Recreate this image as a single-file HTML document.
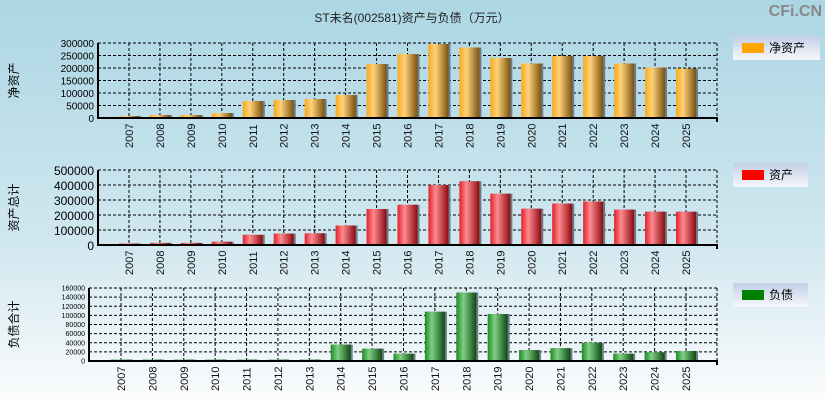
<!DOCTYPE html>
<html><head><meta charset="utf-8"><style>
body{margin:0;width:825px;height:400px;overflow:hidden;font-family:"Liberation Sans","Noto Sans CJK SC",sans-serif;}
svg{display:block}
</style></head><body>
<svg id="c" width="825" height="400" xmlns="http://www.w3.org/2000/svg">
<defs>
<linearGradient id="bg" x1="0" y1="0" x2="0" y2="1"><stop offset="0" stop-color="#acd6e4"/><stop offset="0.6" stop-color="#d0e7ef"/><stop offset="1" stop-color="#fbfcfd"/></linearGradient>
<linearGradient id="gO" x1="0" x2="1"><stop offset="0" stop-color="#f9a91c"/><stop offset="0.35" stop-color="#ffd27a"/><stop offset="1" stop-color="#7a520e"/></linearGradient>
<linearGradient id="gR" x1="0" x2="1"><stop offset="0" stop-color="#e2202a"/><stop offset="0.35" stop-color="#ff8a8f"/><stop offset="1" stop-color="#8a0a10"/></linearGradient>
<linearGradient id="gG" x1="0" x2="1"><stop offset="0" stop-color="#1d8a25"/><stop offset="0.35" stop-color="#7fcf84"/><stop offset="1" stop-color="#0e4a12"/></linearGradient>
<linearGradient id="lg" x1="0" y1="0" x2="0" y2="1"><stop offset="0" stop-color="#c2cfe6"/><stop offset="1" stop-color="#f6f7fb"/></linearGradient>
</defs>
<rect width="825" height="400" fill="url(#bg)"/>
<text x="412" y="22" font-size="12" text-anchor="middle" fill="#222">ST未名(002581)资产与负债（万元）</text>
<text x="822" y="16" font-size="16" font-weight="bold" text-anchor="end" fill="#888">CFi.CN</text>
</svg>
<script>
const years=["2007","2008","2009","2010","2011","2012","2013","2014","2015","2016","2017","2018","2019","2020","2021","2022","2023","2024","2025"];
const netAssets=[8000,12000,12000,20000,68000,72000,76000,92000,216000,256000,296000,282000,240000,218000,248000,248000,218000,202000,198000];
const totalAssets=[10000,14000,14000,22000,68000,76000,78000,130000,240000,268000,400000,425000,342000,242000,276000,290000,236000,222000,222000];
const liabilities=[3000,3000,3000,3000,3000,3000,3000,36000,27000,16000,108000,150000,103000,24000,28000,40000,16000,19000,22000];
const ticksTop=[0,50000,100000,150000,200000,250000,300000];
const ticksMid=[0,100000,200000,300000,400000,500000];
const ticksBot=[0,20000,40000,60000,80000,100000,120000,140000,160000];
const NS="http://www.w3.org/2000/svg";
const svg=document.getElementById('c');
function mk(t,a,p){const e=document.createElementNS(NS,t);for(const k in a)e.setAttribute(k,a[k]);(p||svg).appendChild(e);return e;}
function panel(o){
 const g=mk('g',{});
 
 
 const max=o.ticks[o.ticks.length-1];
 const y=v=>o.y0-(v/max)*(o.y0-o.y1);
 const step=(o.c1-o.c0)/(years.length-1);
 const x=i=>o.c0+step*i;
 o.ticks.forEach(t=>{
  if(t>0){const l=mk('line',{x1:o.xl,x2:o.xr,y1:y(t),y2:y(t),stroke:'#000','stroke-dasharray':'3,2','stroke-width':1},g);
  }
  const tx=mk('text',{x:o.xl-4,y:y(t)+o.fs/2-1,'font-size':o.fs,'text-anchor':'end',fill:'#000'},g);
  tx.textContent=t;
  
 });
 years.forEach((yr,i)=>{
  const l=mk('line',{x1:x(i),x2:x(i),y1:o.y1,y2:o.y0,stroke:'#000','stroke-dasharray':'3,2'},g);
  
 });
 mk('line',{x1:o.xr,x2:o.xr,y1:o.y1,y2:o.y0,stroke:'#000','stroke-dasharray':'3,2'},g);
 mk('line',{x1:o.xl,x2:o.xr,y1:o.y1,y2:o.y1,stroke:'#000','stroke-dasharray':'3,2'},g);
 o.data.forEach((v,i)=>{
  const sh=mk('rect',{x:x(i)-10+2,y:y(v),width:20,height:o.y0-y(v),fill:'#6c7c88'},g);
  
  const b=mk('rect',{x:x(i)-10,y:y(v),width:20,height:o.y0-y(v),fill:o.fill},g);
  
  const t=mk('text',{x:0,y:0,'font-size':11,fill:'#111',transform:`translate(${x(i)+4},${o.y0+30}) rotate(-90)`},g);
  t.textContent=years[i];
  
 });
 const ax=mk('path',{d:`M${o.xl},${o.y1} V${o.y0} H${o.xr} v4`,stroke:'#000','stroke-width':2,fill:'none'},g);
 
 const yt=mk('text',{x:0,y:0,'font-size':12,fill:'#000','text-anchor':'middle',transform:`translate(18,${(o.y0+o.y1)/2}) rotate(-90)`},g);
 yt.textContent=o.title;
 
 const lg=mk('g',{},g);
 
 mk('rect',{x:733,y:o.ly,width:o.lw,height:24,fill:'url(#lg)'},lg);
 mk('rect',{x:742,y:o.ly+7,width:22,height:10,fill:o.lc},lg);
 const lt=mk('text',{x:769,y:o.ly+16,'font-size':12,fill:'#000'},lg);lt.textContent=o.title2;
}
panel({name:'net-assets-panel',data:netAssets,ticks:ticksTop,xl:98,xr:717,c0:129,c1:686,y0:118,y1:43,fs:10,fill:'url(#gO)',title:'净资产',title2:'净资产',ly:36,lw:87,lc:'#ffa500'});
panel({name:'total-assets-panel',data:totalAssets,ticks:ticksMid,xl:98,xr:717,c0:129,c1:686,y0:245,y1:170,fs:12,fill:'url(#gR)',title:'资产总计',title2:'资产',ly:163,lw:75,lc:'#ff0000'});
panel({name:'liabilities-panel',data:liabilities,ticks:ticksBot,xl:89,xr:717,c0:121,c1:686,y0:361,y1:288,fs:7,fill:'url(#gG)',title:'负债合计',title2:'负债',ly:283,lw:75,lc:'#008000'});
</script>
</body></html>
